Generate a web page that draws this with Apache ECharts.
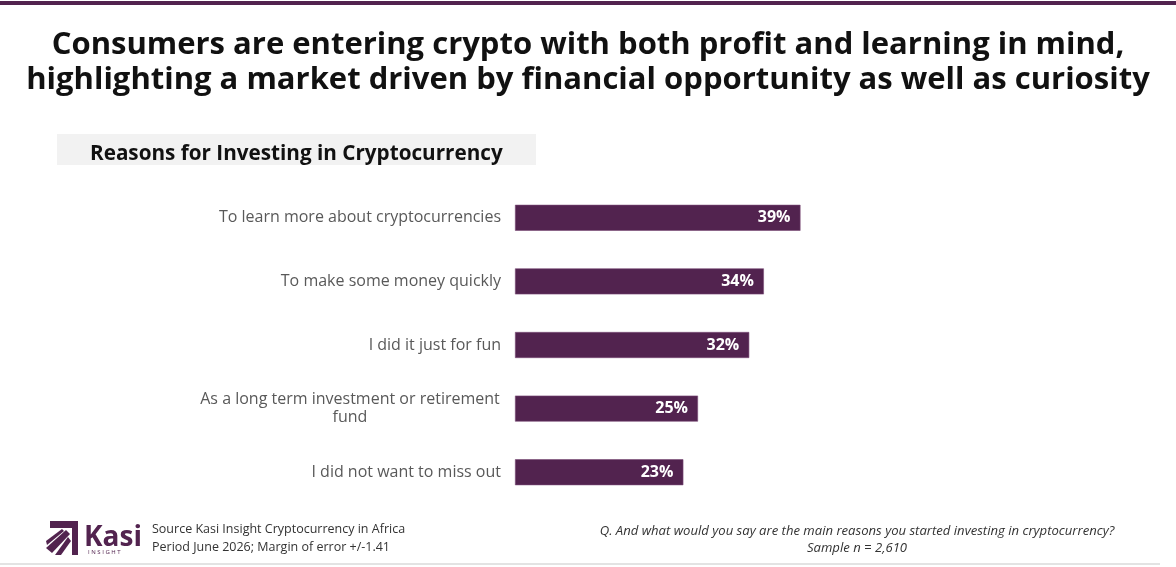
<!DOCTYPE html>
<html>
<head>
<meta charset="utf-8">
<script src="https://cdn.jsdelivr.net/npm/echarts@6/dist/echarts.min.js"></script>
<style>
  html, body { margin: 0; padding: 0; background: #fff; }
  #chart { width: 1176px; height: 567px; }
</style>
</head>
<body>
<div id="chart"></div>
<script>
const reasons = [
  "To learn more about cryptocurrencies",
  "To make some money quickly",
  "I did it just for fun",
  "As a long term investment or retirement\nfund",
  "I did not want to miss out",
];
const shares = [39, 34, 32, 25, 23];

const purple = "#52234f";
const font = "Open Sans";

const chart = echarts.init(document.getElementById("chart"), null, { renderer: "canvas" });

chart.setOption({
  animation: false,
  title: {
    text: "Consumers are entering crypto with both profit and learning in mind,\nhighlighting a market driven by financial opportunity as well as curiosity",
    left: "center",
    top: 23,
    textStyle: {
      fontFamily: font,
      fontSize: 31,
      fontWeight: "bold",
      lineHeight: 35,
      color: "#111",
    },
  },
  grid: { left: 515, width: 366, top: 186, bottom: 63 },
  xAxis: {
    type: "value",
    min: 0,
    max: 50,
    show: false,
  },
  yAxis: {
    type: "category",
    inverse: true,
    data: reasons,
    axisLine: { show: false },
    axisTick: { show: false },
    axisLabel: {
      margin: 14,
      color: "#595959",
      fontFamily: font,
      fontSize: 16,
      formatter: (value) =>
        value.includes("\n")
          ? value.split("\n").map((line) => "{w|" + line + "}").join("\n")
          : value,
      rich: {
        w: {
          width: 302,
          align: "center",
          color: "#595959",
          fontFamily: font,
          fontSize: 16,
          lineHeight: 18,
        },
      },
    },
  },
  series: [
    {
      type: "bar",
      data: shares,
      barWidth: 26,
      itemStyle: { color: purple, borderColor: "#7a4c77", borderWidth: 0.6 },
      label: {
        show: true,
        position: "insideRight",
        distance: 10,
        formatter: "{c}%",
        color: "#fff",
        fontFamily: font,
        fontWeight: "bold",
        fontSize: 16,
      },
    },
  ],
  graphic: [
    // top band
    { type: "rect", shape: { x: 0, y: 1, width: 1176, height: 4 }, style: { fill: purple } },
    // subtitle box
    { type: "rect", shape: { x: 57, y: 134, width: 479, height: 31 }, style: { fill: "#f2f2f2" } },
    {
      type: "text",
      x: 90,
      y: 154,
      style: {
        text: "Reasons for Investing in Cryptocurrency",
        fontFamily: font,
        fontSize: 20.7,
        fontWeight: "bold",
        fill: "#111",
        verticalAlign: "middle",
      },
    },
    // logo mark
    { type: "polygon", shape: { points: [[50, 521], [78, 521], [78, 555], [72, 555], [72, 528], [50, 528]] }, style: { fill: purple } },
    { type: "polygon", shape: { points: [[46, 548], [66, 530], [70, 534], [52, 553]] }, style: { fill: purple } },
    { type: "polygon", shape: { points: [[55, 555], [68, 537], [71, 541], [61, 555]] }, style: { fill: purple } },
    { type: "polygon", shape: { points: [[46, 541], [62, 529], [64, 531], [47, 545]] }, style: { fill: purple } },
    {
      type: "text",
      x: 84,
      y: 538,
      style: {
        text: "Kasi",
        fontFamily: font,
        fontSize: 28,
        fontWeight: "bold",
        fill: purple,
        verticalAlign: "middle",
      },
    },
    {
      type: "text",
      x: 88,
      y: 552,
      style: {
        text: "I N S I G H T",
        fontFamily: font,
        fontSize: 6,
        fill: purple,
        verticalAlign: "middle",
      },
    },
    {
      type: "text",
      x: 152,
      y: 538,
      style: {
        text: "Source Kasi Insight Cryptocurrency in Africa\nPeriod June 2026; Margin of error +/-1.41",
        fontFamily: font,
        fontSize: 12.5,
        lineHeight: 18,
        fill: "#333",
        verticalAlign: "middle",
      },
    },
    {
      type: "text",
      x: 857,
      y: 540,
      style: {
        text: "Q. And what would you say are the main reasons you started investing in cryptocurrency?\nSample n = 2,610",
        fontFamily: font,
        fontSize: 13.1,
        fontStyle: "italic",
        lineHeight: 17,
        fill: "#333",
        align: "center",
        verticalAlign: "middle",
      },
    },
    // bottom rule
    { type: "rect", shape: { x: 0, y: 563, width: 1160, height: 2 }, style: { fill: "#e3e3e3" } },
  ],
});
</script>
</body>
</html>
